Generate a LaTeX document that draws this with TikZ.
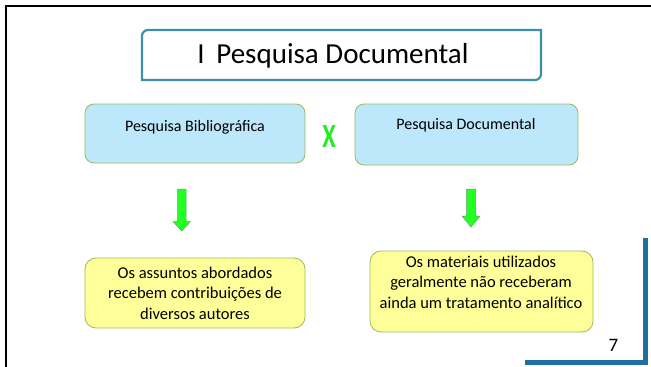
\documentclass[tikz,border=0pt]{standalone}
\usepackage{fontspec}
\setmainfont{Carlito}
\definecolor{teal1}{HTML}{3A90AA}
\definecolor{boxline}{HTML}{9BBB59}
\definecolor{lblue}{HTML}{BDE7FA}
\definecolor{lyellow}{HTML}{FFFF99}
\definecolor{agreen}{HTML}{22FF22}
\definecolor{xgreen}{HTML}{22EE22}
\definecolor{agreenD}{HTML}{55AA55}
\definecolor{corner}{HTML}{1F6FA0}
\tikzset{
  bluebox/.style={draw=boxline, line width=0.8pt, fill=lblue, rounded corners=9pt},
  yellowbox/.style={draw=boxline, line width=0.8pt, fill=lyellow, rounded corners=11pt},
  greenarrow/.style={draw=agreenD, line width=0.5pt, fill=agreen},
  bluetext/.style={font=\fontsize{16}{19}\selectfont},
  yellowtext/.style={align=center, font=\fontsize{16.5}{20.5}\selectfont},
}
\begin{document}
\begin{tikzpicture}[x=1pt,y=-1pt]
\useasboundingbox (0,0) rectangle (651,367);
\fill[white] (0,0) rectangle (651,367);
% outer frame
\draw[line width=2pt] (6,370) -- (6,6) -- (660,6);
% title box
\draw[teal1, line width=2.2pt, fill=white]
  (142,36) [rounded corners=6pt] -- (142,30) [sharp corners] -- (541,30) -- (541,74) [rounded corners=6pt] -- (541,80) [sharp corners] -- (142,80) -- cycle;
\node[font=\fontsize{29}{34}\selectfont] (title) at (333,56) {I\hspace{0.4em}Pesquisa Documental};
% blue boxes
\draw[bluebox] (85,104) rectangle (305,163);
\node[bluetext] (bib) at (195,127) {Pesquisa Bibliográfica};
\draw[bluebox] (355,104) rectangle (578,165);
\node[bluetext] (doc) at (466,125) {Pesquisa Documental};
% X
\node[font=\bfseries\fontsize{34}{34}\selectfont, text=xgreen, xscale=0.72, inner sep=0pt] (x) at (329,136.5) {X};
% arrows
\draw[greenarrow] (177.5,189) -- (186,189) -- (186,221.5) -- (190.5,221.5) -- (181.75,231) -- (173,221.5) -- (177.5,221.5) -- cycle;
\draw[greenarrow] (466.5,189) -- (475.5,189) -- (475.5,216) -- (480,216) -- (471,227) -- (462,216) -- (466.5,216) -- cycle;
% yellow boxes
\draw[yellowbox] (85,258) rectangle (305,328);
\node[yellowtext] (ya) at (195,293) {Os assuntos abordados\\recebem contribuições de\\diversos autores};
\draw[yellowbox] (370,251) rectangle (593,332);
\node[yellowtext] (yb) at (481,282) {Os materiais utilizados\\geralmente não receberam\\ainda um tratamento analítico};
% page number
\node[font=\fontsize{19}{21}\selectfont] (pn) at (613.5,345) {7};
\draw[corner, line width=5pt] (645,238) -- (645,362) -- (525,362);
\end{tikzpicture}
\end{document}
